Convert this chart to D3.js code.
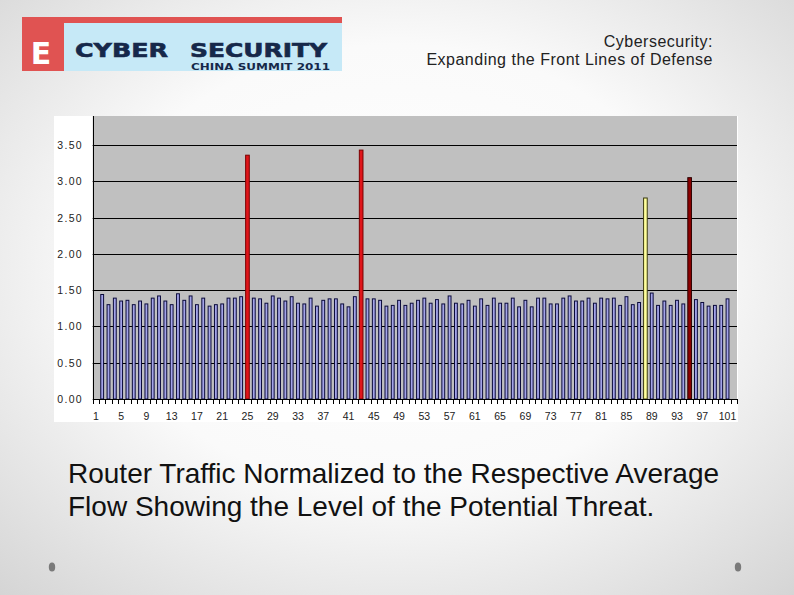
<!DOCTYPE html>
<html>
<head>
<meta charset="utf-8">
<script src="https://cdn.jsdelivr.net/npm/d3@7"></script>
<style>
  body { margin: 0; }
  svg { display: block; }
</style>
</head>
<body>
<svg id="slide" width="794" height="595"></svg>
<script>
//-- data --//
var categories = d3.range(1, 103);   // 1..102, last slot left empty
var traffic = [
  null, 1.44, 1.30, 1.39, 1.35, 1.36, 1.30, 1.35, 1.31, 1.39,
  1.42, 1.35, 1.30, 1.45, 1.36, 1.42, 1.30, 1.39, 1.28, 1.30,
  1.31, 1.39, 1.39, 1.41, 3.36, 1.39, 1.38, 1.32, 1.42, 1.39,
  1.35, 1.41, 1.32, 1.31, 1.39, 1.28, 1.36, 1.38, 1.38, 1.31,
  1.27, 1.41, 3.43, 1.38, 1.38, 1.36, 1.28, 1.29, 1.36, 1.29,
  1.32, 1.36, 1.39, 1.32, 1.37, 1.31, 1.42, 1.32, 1.31, 1.36,
  1.28, 1.38, 1.29, 1.39, 1.32, 1.32, 1.39, 1.27, 1.36, 1.27,
  1.39, 1.39, 1.31, 1.31, 1.39, 1.42, 1.35, 1.35, 1.39, 1.32,
  1.39, 1.38, 1.39, 1.29, 1.41, 1.30, 1.33, 2.77, 1.46, 1.29,
  1.35, 1.29, 1.36, 1.31, 3.05, 1.37, 1.33, 1.28, 1.29, 1.29,
  1.38, null
];
var alertCats = [25, 43, 88, 95];
var alertLevels = ["high", "high", "warn", "severe"];
var yTicks = [0, 0.5, 1.0, 1.5, 2.0, 2.5, 3.0, 3.5];
var xLabels = [1, 5, 9, 13, 17, 21, 25, 29, 33, 37, 41, 45, 49, 53, 57, 61, 65, 69, 73, 77, 81, 85, 89, 93, 97, 101];
var headerLines = ["Cybersecurity:", "Expanding the Front Lines of Defense"];
var captionLines = ["Router Traffic Normalized to the Respective Average",
                    "Flow Showing the Level of the Potential Threat."];
//-- data --//

var svg = d3.select("#slide");

//-- slide background --//
var defs = svg.append("defs");
var grad = defs.append("radialGradient").attr("id", "bg")
    .attr("cx", "50%").attr("cy", "45%").attr("r", "75%");
grad.append("stop").attr("offset", "0").attr("stop-color", "#ffffff");
grad.append("stop").attr("offset", "0.5").attr("stop-color", "#fafafa");
grad.append("stop").attr("offset", "1").attr("stop-color", "#d4d4d4");
svg.append("rect").attr("width", 794).attr("height", 595).attr("fill", "url(#bg)");

//-- logo --//
var logo = svg.append("g");
logo.append("rect").attr("x", 64).attr("y", 22).attr("width", 278).attr("height", 49).attr("fill", "#c6e9f7");
logo.append("rect").attr("x", 22).attr("y", 17).attr("width", 320).attr("height", 6).attr("fill", "#e05352");
logo.append("rect").attr("x", 22).attr("y", 17).attr("width", 42).attr("height", 54).attr("fill", "#e05352");
logo.append("text").attr("x", 41).attr("y", 64)
    .attr("text-anchor", "middle")
    .style("font-family", "DejaVu Sans").style("font-weight", "bold").style("font-size", "30px")
    .attr("fill", "#ffffff").text("E");
logo.append("text").attr("x", 75).attr("y", 57)
    .attr("textLength", 93).attr("lengthAdjust", "spacingAndGlyphs")
    .style("font-family", "DejaVu Sans").style("font-weight", "bold").style("font-size", "19px")
    .attr("fill", "#16284a").attr("stroke", "#16284a").attr("stroke-width", 0.6)
    .text("CYBER");
logo.append("text").attr("x", 190).attr("y", 57)
    .attr("textLength", 137).attr("lengthAdjust", "spacingAndGlyphs")
    .style("font-family", "DejaVu Sans").style("font-weight", "bold").style("font-size", "19px")
    .attr("fill", "#16284a").attr("stroke", "#16284a").attr("stroke-width", 0.6)
    .text("SECURITY");
logo.append("text").attr("x", 191).attr("y", 70)
    .attr("textLength", 139).attr("lengthAdjust", "spacingAndGlyphs")
    .style("font-family", "DejaVu Sans").style("font-weight", "bold").style("font-size", "9px")
    .attr("fill", "#16284a").text("CHINA SUMMIT 2011");

//-- header --//
svg.append("g").selectAll("text")
    .data(headerLines)
    .enter().append("text")
    .attr("x", 713)
    .attr("y", (d, i) => 46.5 + i * 18)
    .attr("text-anchor", "end")
    .style("font-family", "Liberation Sans")
    .style("font-size", "16px")
    .style("letter-spacing", "0.5px")
    .attr("fill", "#222")
    .text(d => d);

//-- chart area --//
var box = {left: 54, top: 116, right: 738, bottom: 422};
var plot = {left: 92.7, top: 116, right: 737, bottom: 399};

svg.append("rect")
    .attr("x", box.left).attr("y", box.top)
    .attr("width", box.right - box.left).attr("height", box.bottom - box.top)
    .attr("fill", "#ffffff");

svg.append("rect")
    .attr("x", plot.left).attr("y", plot.top)
    .attr("width", plot.right - plot.left).attr("height", plot.bottom - plot.top)
    .attr("fill", "#c0c0c0");

var x = d3.scaleBand()
    .domain(categories)
    .range([plot.left, plot.right])
    .paddingInner(0.55)
    .paddingOuter(0.275);

var y = d3.scaleLinear()
    .domain([0, 3.9])
    .range([plot.bottom, plot.top]);

//-- gridlines --//
svg.append("g").selectAll("line")
    .data(yTicks.filter(d => d > 0))
    .enter().append("line")
    .attr("x1", plot.left).attr("x2", plot.right)
    .attr("y1", d => Math.round(y(d)) + 0.5).attr("y2", d => Math.round(y(d)) + 0.5)
    .attr("stroke", "#000").attr("stroke-width", 1);

//-- bars --//
var colour = {
  normal: {fill: "#a3a3e8", stroke: "#0a0a3a"},
  high:   {fill: "#e0151a", stroke: "#7a0000"},
  warn:   {fill: "#ffff9c", stroke: "#3a3a10"},
  severe: {fill: "#8e0000", stroke: "#2a0000"}
};
function level(c) {
  var k = alertCats.indexOf(c);
  return k < 0 ? "normal" : alertLevels[k];
}
var barData = categories.map((c, i) => ({cat: c, value: traffic[i]}))
    .filter(d => d.value != null);

svg.append("g").selectAll("rect")
    .data(barData)
    .enter().append("rect")
    .attr("x", d => x(d.cat) + (level(d.cat) == "normal" ? 0 : -0.4))
    .attr("y", d => y(d.value))
    .attr("width", d => x.bandwidth() + (level(d.cat) == "normal" ? 0 : 0.8))
    .attr("height", d => y(0) - y(d.value))
    .attr("fill", d => colour[level(d.cat)].fill)
    .attr("stroke", d => colour[level(d.cat)].stroke)
    .attr("stroke-width", 1);

//-- axes --//
var axisG = svg.append("g");
axisG.append("line")
    .attr("x1", Math.round(plot.left) + 0.5).attr("x2", Math.round(plot.left) + 0.5)
    .attr("y1", plot.top).attr("y2", plot.bottom + 0.5)
    .attr("stroke", "#000");
axisG.append("line")
    .attr("x1", plot.left).attr("x2", plot.right)
    .attr("y1", Math.round(y(0)) + 0.5).attr("y2", Math.round(y(0)) + 0.5)
    .attr("stroke", "#000");

// tick marks between categories
var bounds = categories.map(c => x(c) - x.step() * x.paddingInner() / 2);
bounds.push(plot.right);
axisG.selectAll("line.tick")
    .data(bounds)
    .enter().append("line")
    .attr("class", "tick")
    .attr("x1", d => Math.round(d) + 0.5).attr("x2", d => Math.round(d) + 0.5)
    .attr("y1", Math.round(y(0))).attr("y2", Math.round(y(0)) + 5)
    .attr("stroke", "#000");

axisG.selectAll("text.xl")
    .data(xLabels)
    .enter().append("text")
    .attr("class", "xl")
    .attr("x", d => x(d) + x.bandwidth() / 2)
    .attr("y", 420)
    .attr("text-anchor", "middle")
    .style("font-family", "Liberation Sans")
    .style("font-size", "10.5px")
    .attr("fill", "#222")
    .text(d => d);

var fmt = d3.format(".2f");
axisG.selectAll("text.yl")
    .data(yTicks)
    .enter().append("text")
    .attr("class", "yl")
    .attr("x", 83)
    .attr("y", d => y(d) + 4)
    .attr("text-anchor", "end")
    .style("font-family", "Liberation Sans")
    .style("font-size", "10.5px")
    .style("letter-spacing", "1.3px")
    .attr("fill", "#222")
    .text(d => fmt(d));

//-- caption --//
svg.append("g").selectAll("text")
    .data(captionLines)
    .enter().append("text")
    .attr("x", 68)
    .attr("y", (d, i) => 483 + i * 33)
    .style("font-family", "Liberation Sans")
    .style("font-size", "28px")
    .attr("fill", "#111")
    .text(d => d);

//-- slide ornaments --//
svg.append("g").selectAll("ellipse")
    .data([52, 738])
    .enter().append("ellipse")
    .attr("cx", d => d).attr("cy", 567)
    .attr("rx", 3.2).attr("ry", 4.6)
    .attr("fill", "#7a7a7a");
</script>
</body>
</html>
